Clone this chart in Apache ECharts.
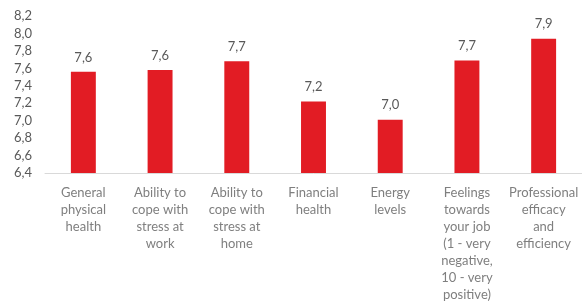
<!DOCTYPE html>
<html>
<head>
<meta charset="utf-8">
<script src="https://cdn.jsdelivr.net/npm/echarts@6/dist/echarts.min.js"></script>
<style>
  html, body { margin: 0; padding: 0; background: #fff; }
  #chart { width: 582px; height: 303px; }
</style>
</head>
<body>
<div id="chart"></div>
<script>
var categories = [
  'General\nphysical\nhealth',
  'Ability to\ncope with\nstress at\nwork',
  'Ability to\ncope with\nstress at\nhome',
  'Financial\nhealth',
  'Energy\nlevels',
  'Feelings\ntowards\nyour job\n(1 - very\nnegative,\n10 - very\npositive)',
  'Professional\nefficacy\nand\nefficiency'
]
var scores = [7.56, 7.58, 7.68, 7.22, 7.01, 7.69, 7.94]

function comma(v) {
  return v.toFixed(1).replace('.', ',')
}

var chart = echarts.init(document.getElementById('chart'))
chart.setOption({
  backgroundColor: '#ffffff',
  textStyle: { fontFamily: 'Lato, "Open Sans", sans-serif' },
  grid: {
    top: 16,
    left: 45,
    right: 0,
    bottom: 130
  },
  xAxis: {
    type: 'category',
    data: categories,
    axisLine: { lineStyle: { color: '#d9d9d9', width: 1 } },
    axisTick: { show: false },
    axisLabel: {
      interval: 0,
      margin: 11,
      color: '#7f7f7f',
      fontSize: 13,
      lineHeight: 17
    }
  },
  yAxis: {
    type: 'value',
    min: 6.4,
    max: 8.2,
    interval: 0.2,
    splitLine: { show: false },
    axisLine: { show: false },
    axisTick: { show: false },
    axisLabel: {
      margin: 13,
      color: '#595959',
      fontSize: 13,
      formatter: function (v) { return comma(v) }
    }
  },
  series: [{
    type: 'bar',
    data: scores,
    barWidth: '32.5%',
    itemStyle: { color: '#e21c24' },
    label: {
      show: true,
      position: 'top',
      distance: 8,
      color: '#595959',
      fontSize: 13,
      formatter: function (p) { return comma(p.value) }
    }
  }]
})
</script>
</body>
</html>
